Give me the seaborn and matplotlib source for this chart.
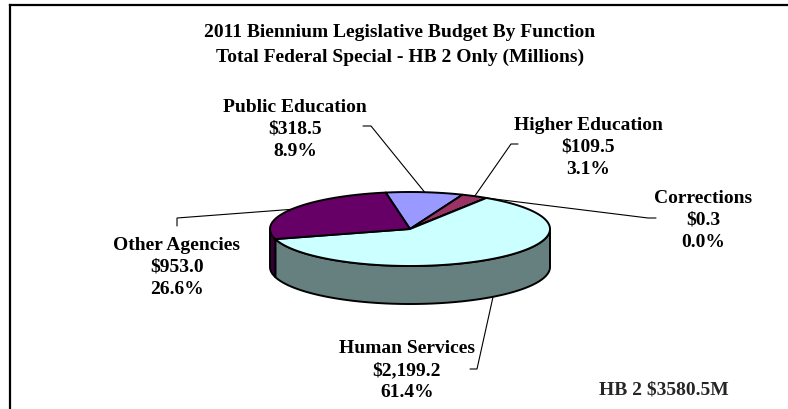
import numpy as np
import matplotlib
matplotlib.use("Agg")
import matplotlib.pyplot as plt
import seaborn as sns

# ---- data -------------------------------------------------------------
functions = ["Public Education", "Higher Education", "Corrections",
             "Human Services", "Other Agencies"]
amounts = [318.5, 109.5, 0.3, 2199.2, 953.0]          # $ millions
title_lines = ["2011 Biennium Legislative Budget By Function",
               "Total Federal Special - HB 2 Only (Millions)"]
total_prefix = "HB 2"

# ---- style ------------------------------------------------------------
sns.set_theme(style="white")
plt.rcParams["font.family"] = ["Liberation Serif", "DejaVu Serif"]
slice_colors = sns.color_palette(["#9999FF", "#993366", "#FFFFCC",
                                  "#CCFFFF", "#660066"])
side_colors = [tuple(0.5 * np.array(c)) for c in slice_colors]

W, H = 788, 410
fig = plt.figure(figsize=(W / 100, H / 100), dpi=100)
ax = fig.add_axes([0, 0, 1, 1])
ax.set_xlim(0, W)
ax.set_ylim(H, 0)
ax.axis("off")

# ---- 3D pie geometry (pixel units) ------------------------------------
cx, cy, rx, ry, depth = 410, 230, 140, 37, 38
start_angle = -10.0          # degrees, clockwise from 12 o'clock
edge_lw = 1.4

values = np.asarray(amounts, dtype=float)
total = values.sum()
sweeps = values / total * 360.0
bounds = start_angle + np.concatenate([[0.0], np.cumsum(sweeps)])


def ellipse_pt(theta, dy=0.0):
    t = np.radians(theta)
    return cx + rx * np.sin(t), cy - ry * np.cos(t) + dy


# outer walls (only the front half, 90..270 deg, faces the viewer)
for i in range(len(values)):
    lo, hi = max(bounds[i], 90.0), min(bounds[i + 1], 270.0)
    if hi <= lo:
        continue
    ts = np.linspace(lo, hi, 200)
    xt, yt = ellipse_pt(ts)
    xb, yb = ellipse_pt(ts[::-1], depth)
    ax.fill(np.r_[xt, xb], np.r_[yt, yb], facecolor=side_colors[i],
            edgecolor="black", lw=edge_lw, joinstyle="round", zorder=3)

# top faces
for i in range(len(values)):
    n = max(3, int(sweeps[i] * 2))
    ts = np.linspace(bounds[i], bounds[i + 1], n)
    xa, ya = ellipse_pt(ts)
    ax.fill(np.r_[cx, xa], np.r_[cy, ya], facecolor=slice_colors[i],
            edgecolor="black", lw=edge_lw, joinstyle="round", zorder=4)

# ---- labels with leader lines -----------------------------------------
label_pos = [(295, 112), (588, 130), (703, 203), (407, 353), (177, 250)]
leader_elbows = [
    [(363, 127), (371, 127)],
    [(518, 145), (511, 145)],
    [(656, 219), (648, 219)],
    [(470, 370), (477, 370)],
    [(177, 227), (177, 219)],
]
line_step = 22
font_kw = dict(fontsize=14, fontweight="bold", color="black",
               ha="center", va="baseline")

for i, name in enumerate(functions):
    mid = (bounds[i] + bounds[i + 1]) / 2.0
    front = 90.0 < (mid % 360.0) < 270.0
    ax_pt = ellipse_pt(mid, depth if front else 0.0)
    path = leader_elbows[i] + [ax_pt]
    px, py = zip(*path)
    ax.plot(px, py, color="black", lw=0.8, zorder=2,
            solid_joinstyle="miter")

    lines = [name, f"${values[i]:,.1f}", f"{values[i] / total * 100:.1f}%"]
    x0, y0 = label_pos[i]
    for k, s in enumerate(lines):
        ax.text(x0, y0 + k * line_step, s, **font_kw)

# ---- title and total --------------------------------------------------
for k, s in enumerate(title_lines):
    ax.text(400, 37 + k * 25, s, **font_kw)

ax.text(599, 395, f"{total_prefix} ${total:.1f}M", fontsize=14,
        fontweight="bold", ha="left", va="baseline")

# ---- chart frame (left and top edges) ---------------------------------
ax.plot([10, 10], [H + 5, 6], color="black", lw=1.6, clip_on=False,
        solid_capstyle="projecting")
ax.plot([10, W + 5], [6, 6], color="black", lw=1.6, clip_on=False,
        solid_capstyle="projecting")

fig.savefig("out.png", dpi=100)
